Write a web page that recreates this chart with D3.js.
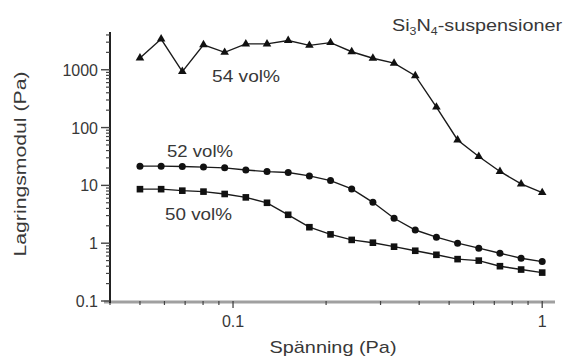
<!DOCTYPE html>
<html><head><meta charset="utf-8">
<script src="https://cdn.jsdelivr.net/npm/d3@7"></script>
<style>body{margin:0;background:#fff}svg{display:block}text{font-family:"Liberation Sans",Arial,sans-serif;fill:#383838}</style>
</head><body><svg id="c" width="564" height="358"></svg>
<script>
const strain = [0.05,0.05854,0.06854,0.08025,0.09396,0.1100,0.1288,0.1508,0.1766,0.2067,0.2420,0.2834,0.3318,0.3885,0.4548,0.5325,0.6235,0.7300,0.8547,1.0];
const vol54 = [1600,3400,930,2700,2000,2800,2800,3200,2640,2950,2050,1580,1300,790,226,61,31.6,17.4,10.6,7.5];
const vol52 = [21.5,21.5,21.2,20.7,20.1,18.5,17.3,16.7,14.6,12.1,8.7,5.1,2.7,1.69,1.27,1.0,0.82,0.67,0.55,0.48];
const vol50 = [8.6,8.6,8.1,7.8,7.1,6.2,5.0,3.1,1.89,1.42,1.14,1.02,0.87,0.74,0.63,0.53,0.50,0.40,0.35,0.31];
const yTickVals = [0.1,1,10,100,1000];
const yTickLabels = ["0.1","1","10","100","1000"];
const xTickVals = [0.1,1];
const xTickLabels = ["0.1","1"];
const seriesNames = ["54 vol%","52 vol%","50 vol%"];

const svg = d3.select("#c");
const x = d3.scaleLog().domain([0.04,1.1]).range([110,555]);
const y = d3.scaleLog().domain([0.1,4500]).range([301,32]);

const xMinor = [];
for (let d=0.01; d<=1; d*=10) for (let k=2;k<=9;k++){const v=d*k; if(v>=0.04 && v<=1.1) xMinor.push(v);}
const yMinor = [];
for (let d=0.1; d<=1000; d*=10) for (let k=2;k<=9;k++){const v=d*k; if(v<=4500) yMinor.push(v);}

// X axis
const gx = svg.append("g").attr("transform","translate(0,302)");
gx.append("line").attr("x1",104).attr("x2",555).attr("y1",0).attr("y2",0).attr("stroke","#a0a0a0").attr("stroke-width",3);
gx.selectAll(".xm").data(xMinor).join("line").attr("x1",d=>x(d)).attr("x2",d=>x(d)).attr("y1",-1).attr("y2",3).attr("stroke","#444").attr("stroke-width",1.2);
gx.selectAll(".xM").data(xTickVals).join("line").attr("x1",d=>x(d)).attr("x2",d=>x(d)).attr("y1",-1).attr("y2",6).attr("stroke","#444").attr("stroke-width",1.3);
gx.selectAll(".xl").data(xTickVals).join("text").attr("x",d=>x(d)).attr("y",25).attr("text-anchor","middle").attr("font-size",16).text((d,i)=>xTickLabels[i]);

// Y axis
const gy = svg.append("g");
gy.append("line").attr("x1",110).attr("x2",110).attr("y1",y(4500)).attr("y2",303).attr("stroke","#222").attr("stroke-width",2);
gy.selectAll(".ym").data(yMinor).join("line").attr("x1",106).attr("x2",110).attr("y1",d=>y(d)).attr("y2",d=>y(d)).attr("stroke","#444").attr("stroke-width",1.2);
gy.selectAll(".yM").data(yTickVals).join("line").attr("x1",101).attr("x2",110).attr("y1",d=>y(d)).attr("y2",d=>y(d)).attr("stroke","#444").attr("stroke-width",1.4);
gy.selectAll(".yl").data(yTickVals).join("text").attr("x",98).attr("y",d=>y(d)+6).attr("text-anchor","end").attr("font-size",16).text((d,i)=>yTickLabels[i]);

// Series
const line = d3.line().x(d=>x(d[0])).y(d=>y(d[1]));
const data = [vol54, vol52, vol50].map(v=>strain.map((s,i)=>[s,v[i]]));
data.forEach(dd=>{
  svg.append("path").attr("d",line(dd)).attr("fill","none").attr("stroke","#1a1a1a").attr("stroke-width",1.4);
});
svg.selectAll(".tri").data(data[0]).join("path")
  .attr("d",d3.symbol().type(d3.symbolTriangle).size(32))
  .attr("transform",d=>`translate(${x(d[0])},${y(d[1])})`).attr("fill","#111");
svg.selectAll(".cir").data(data[1]).join("circle")
  .attr("cx",d=>x(d[0])).attr("cy",d=>y(d[1])).attr("r",3.5).attr("fill","#111");
svg.selectAll(".sq").data(data[2]).join("rect")
  .attr("x",d=>x(d[0])-3.3).attr("y",d=>y(d[1])-3.3).attr("width",6.6).attr("height",6.6).attr("fill","#111");

// series labels
const lbl = [[212,82,68],[167,157,66],[165,220,67]];
seriesNames.forEach((n,i)=>{
  svg.append("text").attr("x",lbl[i][0]).attr("y",lbl[i][1]).attr("font-size",17)
    .attr("textLength",lbl[i][2]).attr("lengthAdjust","spacingAndGlyphs").text(n);
});

// title
const t = svg.append("text").attr("x",392).attr("y",31).attr("font-size",16).attr("textLength",170).attr("lengthAdjust","spacingAndGlyphs");
t.append("tspan").text("Si");
t.append("tspan").attr("font-size",10).attr("dy",4).text("3");
t.append("tspan").attr("dy",-4).text("N");
t.append("tspan").attr("font-size",10).attr("dy",4).text("4");
t.append("tspan").attr("dy",-4).text("-suspensioner");

// axis titles
svg.append("text").attr("x",333).attr("y",353).attr("text-anchor","middle").attr("font-size",17)
  .attr("textLength",127).attr("lengthAdjust","spacingAndGlyphs").text("Spänning (Pa)");
svg.append("text").attr("transform","translate(26,164) rotate(-90)").attr("text-anchor","middle").attr("font-size",16)
  .attr("textLength",185).attr("lengthAdjust","spacingAndGlyphs").text("Lagringsmodul (Pa)");
</script></body></html>
